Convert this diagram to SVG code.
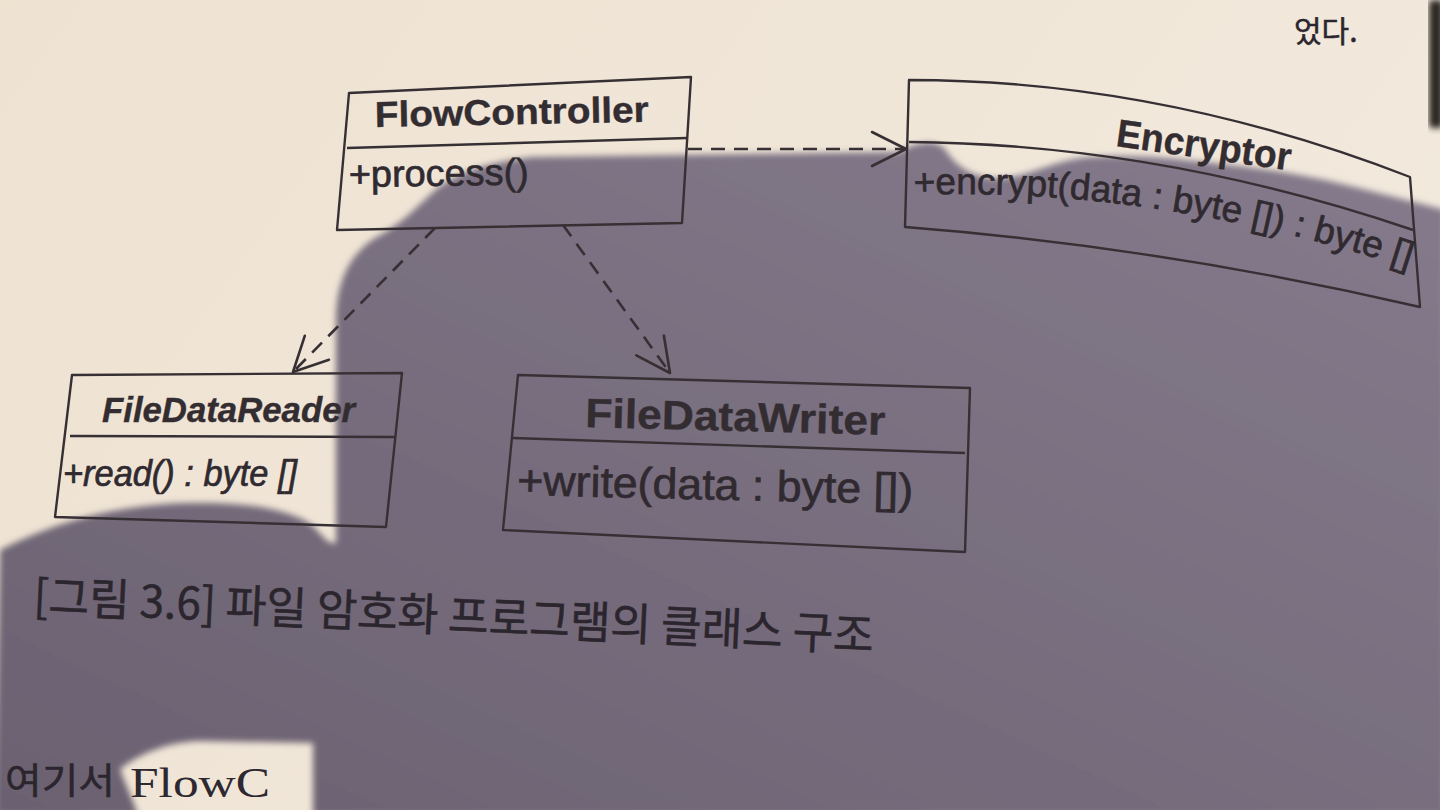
<svg xmlns="http://www.w3.org/2000/svg" width="1440" height="810" viewBox="0 0 1440 810">
<style>
.box{fill:none;stroke:#363034;stroke-width:2.4;stroke-linejoin:round}
.name{font-family:"Liberation Sans",Arial,sans-serif;font-weight:bold;fill:#332d32;stroke:#332d32;stroke-width:0.4}
.op{font-family:"Liberation Sans",Arial,sans-serif;fill:#302a30;stroke:#302a30;stroke-width:0.7}
.dep{fill:none;stroke:#363034;stroke-width:2.6;stroke-dasharray:14 9;marker-end:url(#open)}
.kr{font-family:"Noto Sans CJK KR",sans-serif;fill:#2b252d;stroke:#2b252d;stroke-width:0.5}
</style>
<defs>
<linearGradient id="paper" x1="0" y1="0" x2="1" y2="0.4">
<stop offset="0" stop-color="#eee2d1"/>
<stop offset="1" stop-color="#f2e9dd"/>
</linearGradient>
<linearGradient id="shade" x1="1" y1="0" x2="0" y2="1">
<stop offset="0" stop-color="#857b8c"/>
<stop offset="1" stop-color="#6b6171"/>
</linearGradient>
<filter id="soft" x="-5%" y="-5%" width="110%" height="110%"><feGaussianBlur stdDeviation="3"/></filter>
<marker id="open" markerUnits="userSpaceOnUse" viewBox="-40 -22 44 44" markerWidth="44" markerHeight="44" refX="0" refY="0" orient="auto">
<path d="M-34,-17 L0,0 L-34,17" fill="none" stroke="#363034" stroke-width="2.6" stroke-linecap="round" stroke-linejoin="round"/>
</marker>
<path id="encPath" d="M914,195 Q1160,186 1420,272"/>
</defs>

<!-- page and shadow (photo background) -->
<rect x="0" y="0" width="1440" height="810" fill="url(#paper)"/>
<rect x="1429" y="0" width="14" height="128" rx="4" fill="#2b2522" filter="url(#soft)"/>
<path filter="url(#soft)" fill="url(#shade)" d="M0,550 C40,530 100,505 190,503 C250,502 290,510 312,525 C322,535 328,545 336,543 L336,320 C336,282 350,254 375,238 C398,226 412,212 432,193 C452,175 482,163 532,157 L900,152 C915,142 935,139 945,149 C955,166 975,180 1002,178 C1032,176 1050,161 1090,157 C1130,154 1170,158 1195,161 C1240,166 1285,171 1325,180 C1372,191 1410,201 1445,210 L1445,815 L313,815 L313,743 L200,741 C166,742 138,755 120,769 C126,786 133,800 138,815 L-5,815 Z"/>

<!-- page text fragments -->
<text class="kr" x="1294" y="42" font-size="30" fill="#3c3530" stroke="none">었다.</text>
<text class="kr" x="5" y="794" font-size="36" textLength="110" lengthAdjust="spacingAndGlyphs">여기서</text>
<text x="130" y="797" font-family="'Liberation Serif','Times New Roman',serif" font-size="42" textLength="140" lengthAdjust="spacingAndGlyphs" fill="#2e2830">FlowC</text>

<!-- connectors -->
<g id="connectors">
<path class="dep" d="M688,149 L906,149"/>
<path class="dep" d="M435,228 L293,372"/>
<path class="dep" d="M563,225 L670,373"/>
</g>

<!-- nodes -->
<g id="FlowController">
<path class="box" d="M349,93 L691,77 L682,223 L337,230 Z"/>
<path class="box" d="M347,148 L687,138"/>
<text class="name" x="375" y="127" font-size="36" textLength="274" lengthAdjust="spacingAndGlyphs" transform="rotate(-1.1 375 127)">FlowController</text>
<text class="op" x="349" y="187" font-size="37" textLength="180" lengthAdjust="spacingAndGlyphs" transform="rotate(-0.8 349 187)">+process()</text>
</g>

<g id="Encryptor">
<path class="box" d="M909,80 Q1160,80 1410,177 L1420,307 Q1162,247 905,227 Z"/>
<path class="box" d="M909,142 Q1160,144 1413,230"/>
<text class="name" x="1115" y="146" font-size="39" textLength="176" lengthAdjust="spacingAndGlyphs" transform="rotate(8 1115 146)">Encryptor</text>
<text class="op" font-size="37"><textPath href="#encPath">+encrypt(data : byte []) : byte []</textPath></text>
</g>

<g id="FileDataReader">
<path class="box" d="M72,375 L402,373 L386,527 L55,517 Z"/>
<path class="box" d="M70,436 L395,437"/>
<text class="name" x="102" y="422" font-size="35" font-style="italic" textLength="253" lengthAdjust="spacingAndGlyphs">FileDataReader</text>
<text class="op" x="63" y="486" font-size="36" font-style="italic" textLength="234" lengthAdjust="spacingAndGlyphs">+read() : byte []</text>
</g>

<g id="FileDataWriter">
<path class="box" d="M518,375 L970,388 L965,552 L503,530 Z"/>
<path class="box" d="M513,438 L965,453"/>
<text class="name" x="585" y="427" font-size="41" textLength="300" lengthAdjust="spacingAndGlyphs" transform="rotate(1.5 585 427)">FileDataWriter</text>
<text class="op" x="517" y="495" font-size="43" textLength="396" lengthAdjust="spacingAndGlyphs" transform="rotate(1.3 517 495)">+write(data : byte [])</text>
</g>

<!-- caption -->
<text class="kr" x="33" y="612" font-size="40" textLength="841" lengthAdjust="spacingAndGlyphs" transform="rotate(2.7 33 612) translate(33 612) scale(1 1.12) translate(-33 -612)">[그림 3.6] 파일 암호화 프로그램의 클래스 구조</text>
</svg>
